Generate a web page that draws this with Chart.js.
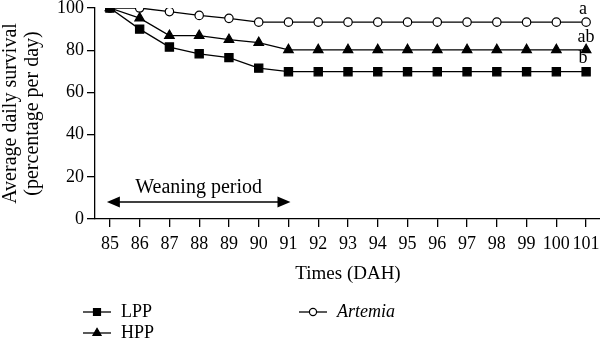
<!DOCTYPE html>
<html>
<head>
<meta charset="utf-8">
<script src="https://cdn.jsdelivr.net/npm/chart.js@4/dist/chart.umd.min.js"></script>
<style>
  html, body { margin: 0; padding: 0; background: #fff; overflow: hidden; }
  #wrap { width: 608px; height: 343px; }
</style>
</head>
<body>
<div id="wrap"><canvas id="survivalChart"></canvas></div>
<script>
// Days after hatching (x categories)
const days = ['85', '86', '87', '88', '89', '90', '91', '92', '93', '94', '95', '96', '97', '98', '99', '100', '101'];

// Average daily survival (%)
const lpp     = [100, 90.0, 81.5, 78.3, 76.5, 71.5, 69.8, 69.8, 69.8, 69.8, 69.8, 69.8, 69.8, 69.8, 69.8, 69.8, 69.8];
const hpp     = [100, 95.2, 86.9, 86.9, 85.0, 83.6, 80.2, 80.2, 80.2, 80.2, 80.2, 80.2, 80.2, 80.2, 80.2, 80.2, 80.2];
const artemia = [100, 100, 98.3, 96.5, 95.1, 93.3, 93.3, 93.3, 93.3, 93.3, 93.3, 93.3, 93.3, 93.3, 93.3, 93.3, 93.3];

// significance letters at the last day, same order as datasets
const letters = ['b', 'ab', 'a'];

// weaning period arrow: from day, to day, at survival value
const weaningSpan = ['85', '91'];
const weaningLevel = 8;

const serif = 'Liberation Serif';
const tickFont = { family: serif, size: 18 };

// Draw arrow, letters and the legend by hand
const extras = {
    id: 'extras',
    afterDraw(chart) {
        const c = chart.ctx;
        const xs = chart.scales.x, ys = chart.scales.y;
        c.save();
        c.fillStyle = '#000';
        c.strokeStyle = '#000';

        // weaning arrow
        const x1 = xs.getPixelForValue(days.indexOf(weaningSpan[0])) - 3;
        const x2 = xs.getPixelForValue(days.indexOf(weaningSpan[1])) + 2;
        const y = ys.getPixelForValue(weaningLevel);
        c.lineWidth = 1.5;
        c.beginPath(); c.moveTo(x1 + 8, y); c.lineTo(x2 - 8, y); c.stroke();
        c.beginPath(); c.moveTo(x1, y); c.lineTo(x1 + 13, y - 5.5); c.lineTo(x1 + 13, y + 5.5); c.closePath(); c.fill();
        c.beginPath(); c.moveTo(x2, y); c.lineTo(x2 - 13, y - 5.5); c.lineTo(x2 - 13, y + 5.5); c.closePath(); c.fill();
        c.font = '20px ' + serif;
        c.textAlign = 'center';
        c.textBaseline = 'alphabetic';
        c.fillText('Weaning period', (x1 + x2) / 2, y - 9);

        // letters above the last points
        c.font = '18px ' + serif;
        c.textBaseline = 'middle';
        const last = days.length - 1;
        chart.data.datasets.forEach((ds, i) => {
            const px = xs.getPixelForValue(last);
            const py = ys.getPixelForValue(ds.data[last]);
            c.fillText(letters[i], px - (letters[i] === 'ab' ? 0 : 3), py - 13);
        });

        // legend
        const items = [
            { ds: 0, x: 83, y: 312, italic: false },
            { ds: 1, x: 83, y: 333, italic: false },
            { ds: 2, x: 299, y: 312, italic: true }
        ];
        items.forEach(it => {
            const ds = chart.data.datasets[it.ds];
            c.lineWidth = 1.3;
            c.beginPath(); c.moveTo(it.x, it.y); c.lineTo(it.x + 28, it.y); c.stroke();
            drawMarker(c, ds.pointStyle, it.x + 14, it.y, ds.pointRadius * 0.85, ds.pointBackgroundColor);
            c.fillStyle = '#000';
            c.font = (it.italic ? 'italic ' : '') + '18px ' + serif;
            c.textAlign = 'left';
            c.textBaseline = 'middle';
            c.fillText(ds.label, it.x + 38, it.y);
        });
        c.restore();
    }
};

function drawMarker(c, style, x, y, r, fill) {
    c.beginPath();
    if (style === 'rect') {
        const s = r * Math.SQRT2 / 2;
        c.rect(x - s, y - s, 2 * s, 2 * s);
    } else if (style === 'triangle') {
        c.moveTo(x, y - r);
        c.lineTo(x + r * 0.866, y + r * 0.5);
        c.lineTo(x - r * 0.866, y + r * 0.5);
        c.closePath();
    } else {
        c.arc(x, y, r, 0, Math.PI * 2);
    }
    c.fillStyle = fill;
    c.fill();
    c.lineWidth = 1.2;
    c.stroke();
}

function series(label, data, style, radius, fill) {
    return {
        label: label,
        data: data,
        borderColor: '#000',
        borderWidth: 1.3,
        pointStyle: style,
        pointRadius: radius,
        pointBackgroundColor: fill,
        pointBorderColor: '#000',
        pointBorderWidth: 1.2,
        tension: 0,
        fill: false
    };
}

const ctx = document.getElementById('survivalChart').getContext('2d');
new Chart(ctx, {
    type: 'line',
    data: {
        labels: days,
        datasets: [
            series('LPP', lpp, 'rect', 5.8, '#000'),
            series('HPP', hpp, 'triangle', 5.5, '#000'),
            series('Artemia', artemia, 'circle', 4.2, '#fff')
        ]
    },
    options: {
        responsive: true,
        maintainAspectRatio: false,
        animation: false,
        layout: { padding: { top: 8, right: 0, bottom: 58, left: 0 } },
        plugins: {
            legend: { display: false },
            tooltip: { enabled: false }
        },
        scales: {
            x: {
                type: 'category',
                offset: true,
                grid: { drawOnChartArea: false, offset: false, tickLength: 8, color: '#000', lineWidth: 1.3 },
                border: { color: '#000', width: 1.3 },
                ticks: { font: tickFont, color: '#000', padding: 6, maxRotation: 0, autoSkip: false },
                title: { display: true, text: 'Times (DAH)', font: { family: serif, size: 19 }, color: '#000', padding: { top: 4, bottom: 0 } },
                afterFit: s => { s.height = 66; s.paddingLeft = 0; s.paddingRight = 0; }
            },
            y: {
                min: 0,
                max: 100,
                grid: { drawOnChartArea: false, tickLength: 8, color: '#000', lineWidth: 1.3 },
                border: { color: '#000', width: 1.3 },
                ticks: { stepSize: 20, font: tickFont, color: '#000', padding: 3 },
                title: {
                    display: true,
                    text: ['Average daily survival', '(percentage per day)'],
                    font: { family: serif, size: 20, lineHeight: 1.1 },
                    color: '#000',
                    padding: { top: 0, bottom: 2 }
                },
                afterFit: s => { s.width = 95; s.paddingTop = 0; s.paddingBottom = 0; }
            }
        }
    },
    plugins: [extras]
});
</script>
</body>
</html>
